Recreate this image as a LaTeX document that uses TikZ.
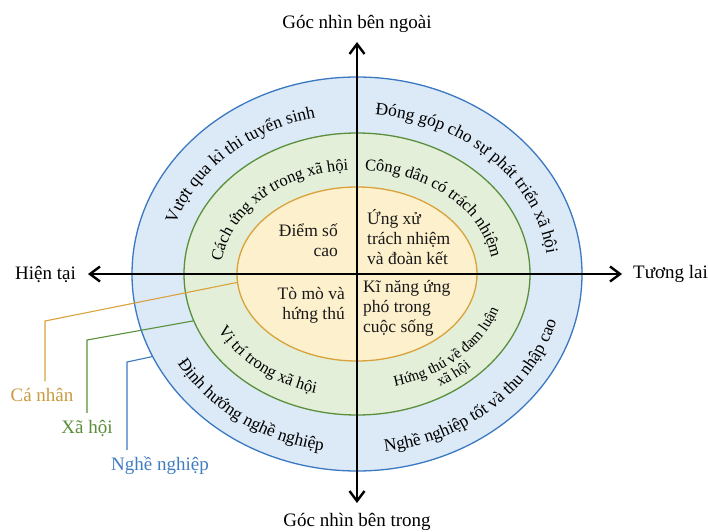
\documentclass[tikz,border=0pt]{standalone}
\usepackage{fontspec}
\setmainfont{Liberation Serif}
\usetikzlibrary{positioning, arrows.meta, shapes.geometric, decorations.text}
\definecolor{careerfill}{HTML}{DCE9F6}
\definecolor{careerline}{HTML}{3A78C2}
\definecolor{careertext}{HTML}{3F7DC0}
\definecolor{socialfill}{HTML}{E3EFD9}
\definecolor{socialline}{HTML}{5A8F3C}
\definecolor{socialtext}{HTML}{5B8C3A}
\definecolor{personalfill}{HTML}{FDF0CC}
\definecolor{personalline}{HTML}{D9A23B}
\definecolor{personaltext}{HTML}{C89A3F}
\newcommand{\outerfont}{\fontsize{17.5}{20}\selectfont}
\newcommand{\middlefont}{\fontsize{16.5}{18}\selectfont}
\newcommand{\twolinefont}{\fontsize{15}{16}\selectfont}

\begin{document}
\begin{tikzpicture}[
    x=1pt, y=1pt,
    font=\fontsize{17.5}{20}\selectfont,
    ring/.style={ellipse, draw, inner sep=0pt, outer sep=0pt, line width=1.3pt},
    axis/.style={line width=2.4pt, {Straight Barb[length=10pt,width=15pt]}-{Straight Barb[length=10pt,width=15pt]}},
    axislbl/.style={inner sep=0pt, font=\fontsize{19}{22}\selectfont},
    core/.style={inner sep=0pt, text=black!90},
    legend/.style={inner sep=0pt, outer sep=7pt, font=\fontsize{19}{22}\selectfont},
    leader/.style={line width=1.1pt},
    bandtext/.style={decorate, decoration={text along path, text align=center, text={#1}}}
]
    \useasboundingbox (-357,-257) rectangle (351,274);

    % =========================================================================
    % RINGS
    % =========================================================================
    \node (career) [ring, draw=careerline, fill=careerfill, minimum width=450pt, minimum height=394pt] at (0,0) {};
    \node (social) [ring, draw=socialline, fill=socialfill, minimum width=346pt, minimum height=282pt] at (0,0) {};
    \node (personal) [ring, draw=personalline, fill=personalfill, minimum width=240pt, minimum height=174pt] at (0,0) {};

    % =========================================================================
    % AXES
    % =========================================================================
    \coordinate (past) at (-269,0);
    \coordinate (future) at (265,0);
    \coordinate (outer_tip) at (0,232);
    \coordinate (inner_tip) at (0,-229);
    \draw [axis] (past) -- (future);
    \draw [axis] (outer_tip) -- (inner_tip);

    \node (past_lbl) [axislbl, left=12pt of past] {Hiện tại};
    \node (future_lbl) [axislbl, right=11pt of future] {Tương lai};
    \node (outer_lbl) [axislbl, above=9pt of outer_tip] {Góc nhìn bên ngoài};
    \node (inner_lbl) [axislbl, below=10pt of inner_tip] {Góc nhìn bên trong};

    % Core texts
    \node (core_nw) [core, anchor=east, align=right] at (-19,34) {Điểm số\\cao};
    \node (core_ne) [core, anchor=west, align=left] at (10,37) {Ứng xử\\trách nhiệm\\và đoàn kết};
    \node (core_sw) [core, anchor=east, align=right] at (-12,-31) {Tò mò và\\hứng thú};
    \node (core_se) [core, anchor=west, align=left] at (6,-34) {Kĩ năng ứng\\phó trong\\cuộc sống};

    % =========================================================================
    % CURVED BAND TEXTS
    % =========================================================================
    % outer band
    \path [bandtext={|\outerfont|Vượt qua kì thi tuyển sinh}] (194.7:191pt and 160pt) arc[start angle=194.7, end angle=74.7, x radius=191pt, y radius=160pt];
    \path [bandtext={|\outerfont|Đóng góp cho sự phát triển xã hội}] (104:191pt and 160pt) arc[start angle=104, end angle=-16, x radius=191pt, y radius=160pt];
    \path [bandtext={|\outerfont|Định hướng nghề nghiệp}] (173:207pt and 179pt) arc[start angle=173, end angle=293, x radius=207pt, y radius=179pt];
    \path [bandtext={|\outerfont|Nghề nghiệp tốt và thu nhập cao}] (253:207pt and 179pt) arc[start angle=253, end angle=373, x radius=207pt, y radius=179pt];

    % middle band
    \path [bandtext={|\middlefont|Cách ứng xử trong xã hội}] (196:136pt and 104pt) arc[start angle=196, end angle=76, x radius=136pt, y radius=104pt];
    \path [bandtext={|\middlefont|Công dân có trách nhiệm}] (105:136pt and 104pt) arc[start angle=105, end angle=-15, x radius=136pt, y radius=104pt];
    \path [bandtext={|\middlefont|Vị trí trong xã hội}] (167:156pt and 124pt) arc[start angle=167, end angle=287, x radius=156pt, y radius=124pt];
    \path [bandtext={|\twolinefont|Hứng thú về đam luận}] (257:149pt and 116pt) arc[start angle=257, end angle=377, x radius=149pt, y radius=116pt];
    \path [bandtext={|\twolinefont|xã hội}] (252:163pt and 131pt) arc[start angle=252, end angle=372, x radius=163pt, y radius=131pt];

    % =========================================================================
    % LEGEND
    % =========================================================================
    \coordinate (ca_corner) at (-312,-47);
    \coordinate (xh_corner) at (-270,-66);
    \coordinate (nn_corner) at (-230,-88);
    \node (ca_lbl) [legend, text=personaltext] at (-315,-121) {Cá nhân};
    \node (xh_lbl) [legend, text=socialtext] at (-270,-154) {Xã hội};
    \node (nn_lbl) [legend, text=careertext] at (-197,-192) {Nghề nghiệp};

    \draw [leader, draw=personalline] (personal.184) -- (ca_corner) -- (ca_corner |- ca_lbl.north);
    \draw [leader, draw=socialline] (social.196) -- (xh_corner) -- (xh_corner |- xh_lbl.north);
    \draw [leader, draw=careerline] (career.202) -- (nn_corner) -- (nn_corner |- nn_lbl.north);

\end{tikzpicture}
\end{document}
